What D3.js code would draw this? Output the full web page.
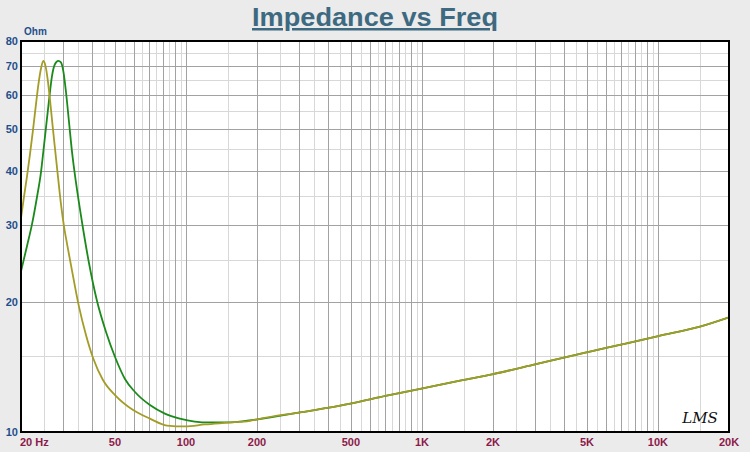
<!DOCTYPE html>
<html>
<head>
<meta charset="utf-8">
<script src="https://cdn.jsdelivr.net/npm/d3@7/dist/d3.min.js"></script>
<style>
  html, body { margin: 0; padding: 0; background: #ebebeb; }
  svg { display: block; }
</style>
</head>
<body>
<svg id="chart" width="750" height="452"></svg>
<script>
// ---- Data ----
const titleText = "Impedance vs Freq";
const yUnit = "Ohm";

// olive (yellow-green) curve, low-frequency part
const oliveFreq = [20, 20.59, 21.21, 21.84, 22.48, 23.15, 23.72, 24.31, 24.86, 25.41, 25.90, 26.54, 27.20, 27.87, 28.70, 29.54, 30.41, 31.34, 32.57, 35.19, 37.70, 40.40, 44.49, 50.06, 59.69, 70.37, 83.12, 99.06, 120.2, 150.6, 186.8];
const oliveZ    = [31.2, 34.9, 39.0, 43.9, 49.8, 57.2, 63.7, 69.1, 72.0, 70.0, 65.7, 58.5, 51.2, 45.1, 38.8, 33.6, 29.9, 27.2, 24.3, 19.5, 16.75, 14.82, 13.19, 12.17, 11.24, 10.74, 10.35, 10.30, 10.41, 10.51, 10.61];

// green curve, low-frequency part
const greenFreq = [20, 21.21, 22.27, 23.38, 24.31, 24.91, 25.53, 26.30, 27.06, 27.87, 28.77, 29.54, 30.27, 31.02, 31.95, 32.91, 34.22, 36.26, 38.82, 41.99, 45.85, 50.06, 55.15, 60.83, 70.37, 81.4, 94.18, 108.96, 126.0, 145.8, 168.7];
const greenZ    = [23.5, 26.9, 30.2, 34.9, 39.85, 44.8, 50.6, 58.5, 66.4, 70.8, 72.0, 71.4, 67.8, 61.0, 52.0, 44.3, 37.6, 30.55, 24.57, 20.07, 17.02, 14.90, 13.26, 12.37, 11.54, 11.03, 10.74, 10.57, 10.52, 10.52, 10.57];

// shared high-frequency part (both curves coincide)
const hiFreq = [201, 304, 404, 504, 709, 1007, 1450, 2003, 3013, 4037, 4989, 7372, 10030, 15070, 20000];
const hiZ    = [10.70, 11.10, 11.38, 11.65, 12.13, 12.61, 13.14, 13.61, 14.33, 14.88, 15.28, 16.03, 16.66, 17.51, 18.40];

// tick labels
const xTickValues = [20, 50, 100, 200, 500, 1000, 2000, 5000, 10000, 20000];
const xTickLabels = ["20 Hz", "50", "100", "200", "500", "1K", "2K", "5K", "10K", "20K"];
const yTickValues = [10, 20, 30, 40, 50, 60, 70, 80];
const yTickLabels = ["10", "20", "30", "40", "50", "60", "70", "80"];

const oliveColor = "#a39c26";
const greenColor = "#1a8a1a";

// ---- Layout ----
const svg = d3.select("#chart");
const L = 21, R = 729, T = 41, B = 432;

const x = d3.scaleLog().domain([20, 20000]).range([L, R]);
const y = d3.scaleLog().domain([10, 80]).range([B, T]);

// plot background
svg.append("rect").attr("x", L).attr("y", T).attr("width", R - L).attr("height", B - T).attr("fill", "#ffffff");

// grid values
const majorX = [], minorX = [];
[10, 100, 1000, 10000].forEach(d => {
  for (let k = 1; k <= 9; k++) {
    const v = d * k;
    if (v > 20 && v < 20000) majorX.push(v);
    const h = d * (k + 0.5);
    if (h > 20 && h < 20000) minorX.push(h);
  }
});
const majorY = [20, 30, 40, 50, 60, 70];
const minorY = [15, 25, 35, 45, 55, 65, 75];

const grid = svg.append("g");
grid.selectAll(".mnx").data(minorX).enter().append("line")
  .attr("x1", d => Math.round(x(d)) + 0.5).attr("x2", d => Math.round(x(d)) + 0.5)
  .attr("y1", T).attr("y2", B).attr("stroke", "#d8d8d8").attr("stroke-width", 1);
grid.selectAll(".mny").data(minorY).enter().append("line")
  .attr("y1", d => Math.round(y(d)) + 0.5).attr("y2", d => Math.round(y(d)) + 0.5)
  .attr("x1", L).attr("x2", R).attr("stroke", "#d8d8d8").attr("stroke-width", 1);
grid.selectAll(".mjx").data(majorX).enter().append("line")
  .attr("x1", d => Math.round(x(d)) + 0.5).attr("x2", d => Math.round(x(d)) + 0.5)
  .attr("y1", T).attr("y2", B).attr("stroke", "#a2a2a2").attr("stroke-width", 1);
grid.selectAll(".mjy").data(majorY).enter().append("line")
  .attr("y1", d => Math.round(y(d)) + 0.5).attr("y2", d => Math.round(y(d)) + 0.5)
  .attr("x1", L).attr("x2", R).attr("stroke", "#a2a2a2").attr("stroke-width", 1);

// curves
const line = d3.line().x(d => x(d[0])).y(d => y(d[1])).curve(d3.curveMonotoneX);
const greenPts = greenFreq.map((f, i) => [f, greenZ[i]]).concat(hiFreq.map((f, i) => [f, hiZ[i]]));
const olivePts = oliveFreq.map((f, i) => [f, oliveZ[i]]).concat(hiFreq.map((f, i) => [f, hiZ[i]]));

svg.append("clipPath").attr("id", "clip").append("rect")
  .attr("x", L).attr("y", T).attr("width", R - L).attr("height", B - T);

svg.append("path").datum(greenPts).attr("d", line).attr("fill", "none")
  .attr("stroke", greenColor).attr("stroke-width", 1.8).attr("clip-path", "url(#clip)");
svg.append("path").datum(olivePts).attr("d", line).attr("fill", "none")
  .attr("stroke", oliveColor).attr("stroke-width", 1.8).attr("clip-path", "url(#clip)");

// frame
svg.append("rect").attr("x", L).attr("y", T).attr("width", R - L).attr("height", B - T)
  .attr("fill", "none").attr("stroke", "#000").attr("stroke-width", 2);

// y axis labels
svg.append("g").selectAll("text").data(yTickValues).enter().append("text")
  .attr("x", 18).attr("y", d => y(d) + 4)
  .attr("text-anchor", "end")
  .attr("font-family", "Arial, 'Liberation Sans', sans-serif").attr("font-weight", "bold")
  .attr("font-size", 11).attr("fill", "#1f4f8c")
  .text((d, i) => yTickLabels[i]);

svg.append("text").attr("x", 24).attr("y", 35)
  .attr("font-family", "Arial, 'Liberation Sans', sans-serif").attr("font-weight", "bold")
  .attr("font-size", 10).attr("fill", "#1f4f8c").text(yUnit);

// x axis labels
svg.append("g").selectAll("text").data(xTickValues).enter().append("text")
  .attr("x", (d, i) => i === 0 ? 20 : x(d))
  .attr("y", 446)
  .attr("text-anchor", (d, i) => i === 0 ? "start" : "middle")
  .attr("font-family", "Arial, 'Liberation Sans', sans-serif").attr("font-weight", "bold")
  .attr("font-size", 11).attr("fill", "#8c1a4a")
  .text((d, i) => xTickLabels[i]);

// title
svg.append("text").attr("x", 375).attr("y", 26)
  .attr("text-anchor", "middle")
  .attr("font-family", "Arial, 'Liberation Sans', sans-serif").attr("font-weight", "bold")
  .attr("font-size", 25).attr("fill", "#3d6a80")
  .attr("text-decoration", "underline")
  .attr("textLength", 246).attr("lengthAdjust", "spacingAndGlyphs")
  .text(titleText);

// LMS mark
svg.append("text").attr("x", 700).attr("y", 423)
  .attr("text-anchor", "middle")
  .attr("font-family", "'DejaVu Serif', serif").attr("font-style", "italic")
  .attr("font-size", 15).attr("fill", "#111")
  .text("LMS");
</script>
</body>
</html>
